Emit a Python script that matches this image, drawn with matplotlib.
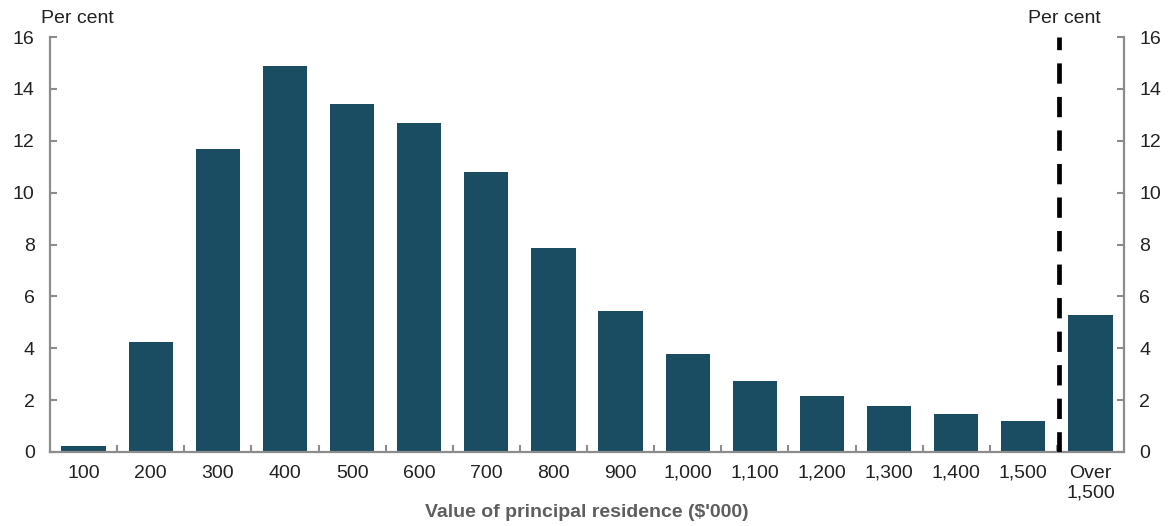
import numpy as np
import matplotlib
matplotlib.use('Agg')
import matplotlib.pyplot as plt

plt.rcParams['font.family'] = ['Liberation Sans', 'DejaVu Sans']

categories = ['100', '200', '300', '400', '500', '600', '700', '800', '900',
              '1,000', '1,100', '1,200', '1,300', '1,400', '1,500', 'Over\n1,500']
shares = [0.25, 4.25, 11.7, 14.9, 13.4, 12.7, 10.8, 7.85, 5.42,
          3.76, 2.72, 2.15, 1.78, 1.48, 1.2, 5.3]

bar_col = '#1a4c62'
axis_col = '#8c8c8c'
text_col = '#222222'

fig = plt.figure(figsize=(11.69, 5.26), dpi=100)
ax = fig.add_axes([50 / 1169, 1 - 452 / 526, 1074 / 1169, 415 / 526])

x = np.arange(len(categories))
ax.bar(x, shares, width=0.66, color=bar_col, zorder=2)
ax.axvline(14.53, color='black', lw=3.4, dashes=(4.3, 2.8), zorder=3)

ax.set_xlim(-0.5, len(categories) - 0.5)
ax.set_ylim(0, 16)

for s in ['left', 'right', 'bottom']:
    ax.spines[s].set_color(axis_col)
    ax.spines[s].set_linewidth(1.6)
ax.spines['top'].set_visible(False)

# x labels at bar centres, tick marks between bars
ax.set_xticks(x)
ax.set_xticklabels(categories, fontsize=14, color=text_col, va='top')
ax.tick_params(axis='x', length=0, pad=9)
ax.set_xticks(np.arange(0.5, len(categories) - 1, 1), minor=True)
ax.tick_params(axis='x', which='minor', direction='in', length=5,
               width=1.5, color=axis_col)

yt = np.arange(0, 17, 2)
ax.set_yticks(yt)
ax.set_yticklabels([str(v) for v in yt], fontsize=14, color=text_col)
ax.tick_params(axis='y', direction='in', length=5, width=1.5, color=axis_col,
               left=True, right=True, labelleft=True, labelright=True, pad=11)

ax.text(-0.008, 1.025, 'Per cent', transform=ax.transAxes,
        fontsize=14, color=text_col, ha='left', va='bottom')
ax.text(1.0 - 0.022, 1.025, 'Per cent', transform=ax.transAxes,
        fontsize=14, color=text_col, ha='right', va='bottom')

ax.set_xlabel("Value of principal residence ($'000)", fontsize=14,
              fontweight='bold', color='#5e5e5e', labelpad=2)

fig.savefig('out.png', dpi=100)
